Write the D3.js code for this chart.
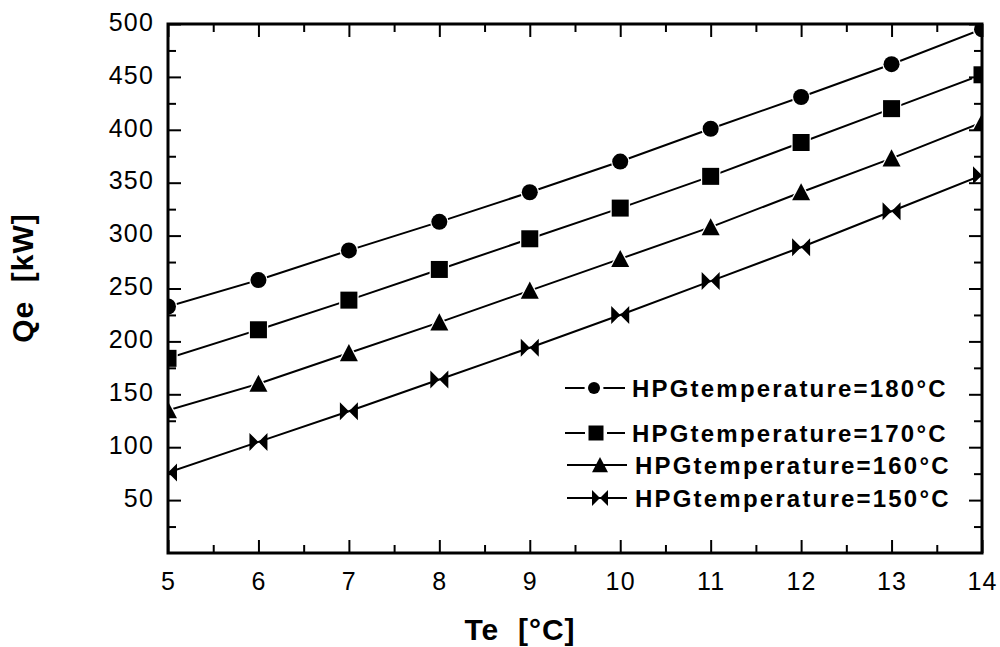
<!DOCTYPE html>
<html>
<head>
<meta charset="utf-8">
<script src="https://cdn.jsdelivr.net/npm/d3@7"></script>
<style>
  body { margin: 0; background: #fff; }
  svg { display: block; font-family: "Liberation Sans", Arial, sans-serif; }
</style>
</head>
<body>
<svg id="chart" width="1000" height="647"></svg>
<script>
// Te [°C] on x, Qe [kW] on y, one series per HPG temperature
const te = [5, 6, 7, 8, 9, 10, 11, 12, 13, 14];
const qe180 = [233, 258, 286, 313, 341, 370, 401, 431, 462, 495];
const qe170 = [184, 211, 239, 268, 297, 326, 356, 388, 420, 452];
const qe160 = [135, 160, 189, 218, 248, 278, 308, 341, 373, 407];
const qe150 = [76, 105, 134, 164, 194, 225, 257, 289, 323, 357];
const seriesNames = ['HPGtemperature=180°C', 'HPGtemperature=170°C', 'HPGtemperature=160°C', 'HPGtemperature=150°C'];
const yTicks = [50, 100, 150, 200, 250, 300, 350, 400, 450, 500];
const xTicks = [5, 6, 7, 8, 9, 10, 11, 12, 13, 14];

const SVG = d3.select('#chart');
const LEFT = 168, RIGHT = 982, TOP = 24, BOTTOM = 553;

const x = d3.scaleLinear().domain([5, 14]).range([LEFT, RIGHT]);
const y = d3.scaleLinear().domain([0, 500]).range([BOTTOM, TOP]);

const xMinor = xTicks.slice(0, -1).map((d) => d + 0.5);
const yMinor = [0].concat(yTicks.slice(0, -1)).map((d) => d + 25);

// marker shapes, centred on 0,0
function markerPath(kind, s) {
  const h = s / 2;
  if (kind === 'circle') return d3.symbol(d3.symbolCircle, Math.PI * h * h)();
  if (kind === 'square') return `M${-h},${-h}H${h}V${h}H${-h}Z`;
  if (kind === 'triangle') return `M0,${-h}L${h},${h * 0.9}L${-h},${h * 0.9}Z`;
  // bowtie: two triangles meeting in the middle
  return `M${-h},${-h}L0,0L${-h},${h}Z M${h},${-h}L0,0L${h},${h}Z`;
}

const series = [
  { name: seriesNames[0], values: qe180, kind: 'circle', size: 16 },
  { name: seriesNames[1], values: qe170, kind: 'square', size: 17 },
  { name: seriesNames[2], values: qe160, kind: 'triangle', size: 18 },
  { name: seriesNames[3], values: qe150, kind: 'bowtie', size: 18 },
];

SVG.append('clipPath')
  .attr('id', 'plotClip')
  .append('rect')
  .attr('x', LEFT)
  .attr('y', TOP)
  .attr('width', RIGHT - LEFT)
  .attr('height', BOTTOM - TOP);

const PLOT = SVG.append('g').attr('clip-path', 'url(#plotClip)');
const line = d3.line().x((d) => x(d[0])).y((d) => y(d[1]));

series.forEach((s) => {
  const pts = te.map((t, i) => [t, s.values[i]]);
  PLOT.append('path')
    .attr('d', line(pts))
    .attr('fill', 'none')
    .attr('stroke', '#000')
    .attr('stroke-width', 2);
  PLOT.selectAll(null)
    .data(pts)
    .join('path')
    .attr('transform', (d) => `translate(${x(d[0])},${y(d[1])})`)
    .attr('d', markerPath(s.kind, s.size))
    .attr('fill', '#000')
    .attr('stroke', '#fff')
    .attr('stroke-width', s.kind === 'bowtie' ? 0 : 2.5)
    .style('paint-order', 'stroke');
});

// axes, ticks pointing inwards on all four sides
function styleAxis(g, fontSize) {
  g.select('.domain').remove();
  g.selectAll('line').attr('stroke', '#000').attr('stroke-width', 2);
  g.selectAll('text')
    .attr('fill', '#000')
    .style('font-size', fontSize)
    .style('letter-spacing', '1.2px');
}

SVG.append('g')
  .attr('transform', `translate(0,${BOTTOM})`)
  .call(d3.axisBottom(x).tickValues(xTicks).tickSize(-13).tickPadding(19).tickFormat(d3.format('d')))
  .call((g) => styleAxis(g, '25px'));
SVG.append('g')
  .attr('transform', `translate(0,${BOTTOM})`)
  .call(d3.axisBottom(x).tickValues(xMinor).tickSize(-8).tickFormat(''))
  .call((g) => styleAxis(g, '0px'));
SVG.append('g')
  .attr('transform', `translate(0,${TOP})`)
  .call(d3.axisTop(x).tickValues(xTicks).tickSize(-13).tickFormat(''))
  .call((g) => styleAxis(g, '0px'));
SVG.append('g')
  .attr('transform', `translate(0,${TOP})`)
  .call(d3.axisTop(x).tickValues(xMinor).tickSize(-8).tickFormat(''))
  .call((g) => styleAxis(g, '0px'));

const Y_AXIS = SVG.append('g')
  .attr('transform', `translate(${LEFT},0)`)
  .call(d3.axisLeft(y).tickValues(yTicks).tickSize(-13).tickPadding(14))
  .call((g) => styleAxis(g, '25px'));
Y_AXIS.selectAll('text').attr('dy', '0.25em');
SVG.append('g')
  .attr('transform', `translate(${LEFT},0)`)
  .call(d3.axisLeft(y).tickValues(yMinor).tickSize(-8).tickFormat(''))
  .call((g) => styleAxis(g, '0px'));
SVG.append('g')
  .attr('transform', `translate(${RIGHT},0)`)
  .call(d3.axisRight(y).tickValues(yTicks).tickSize(-13).tickFormat(''))
  .call((g) => styleAxis(g, '0px'));
SVG.append('g')
  .attr('transform', `translate(${RIGHT},0)`)
  .call(d3.axisRight(y).tickValues(yMinor).tickSize(-8).tickFormat(''))
  .call((g) => styleAxis(g, '0px'));

SVG.append('rect')
  .attr('x', LEFT)
  .attr('y', TOP)
  .attr('width', RIGHT - LEFT)
  .attr('height', BOTTOM - TOP)
  .attr('fill', 'none')
  .attr('stroke', '#000')
  .attr('stroke-width', 3);

// axis titles
SVG.append('text')
  .attr('x', 520)
  .attr('y', 640)
  .attr('text-anchor', 'middle')
  .style('font-size', '30px')
  .style('font-weight', 'bold')
  .style('letter-spacing', '1px')
  .style('white-space', 'pre')
  .text('Te  [°C]');

SVG.append('text')
  .attr('transform', 'translate(33,278) rotate(-90)')
  .attr('text-anchor', 'middle')
  .style('font-size', '30px')
  .style('font-weight', 'bold')
  .style('letter-spacing', '1px')
  .style('white-space', 'pre')
  .text('Qe  [kW]');

// legend
const legendRows = [
  { y: 388, x1: 565, x2: 625, mx: 594, tx: 632, size: 12 },
  { y: 433, x1: 565, x2: 625, mx: 596, tx: 632, size: 15 },
  { y: 465, x1: 567, x2: 627, mx: 600, tx: 635, size: 16 },
  { y: 498, x1: 567, x2: 627, mx: 600, tx: 635, size: 16 },
];
const LEGEND = SVG.append('g');
series.forEach((s, i) => {
  const r = legendRows[i];
  LEGEND.append('line')
    .attr('x1', r.x1)
    .attr('x2', r.x2)
    .attr('y1', r.y)
    .attr('y2', r.y)
    .attr('stroke', '#000')
    .attr('stroke-width', 2);
  LEGEND.append('path')
    .attr('transform', `translate(${r.mx},${r.y})`)
    .attr('d', markerPath(s.kind, r.size))
    .attr('fill', '#000')
    .attr('stroke', '#fff')
    .attr('stroke-width', i < 2 ? 7 : 0)
    .style('paint-order', 'stroke');
  LEGEND.append('text')
    .attr('x', r.tx)
    .attr('y', r.y + 8.5)
    .style('font-size', '24px')
    .style('font-weight', 'bold')
    .style('letter-spacing', '2.2px')
    .text(s.name);
});
</script>
</body>
</html>
